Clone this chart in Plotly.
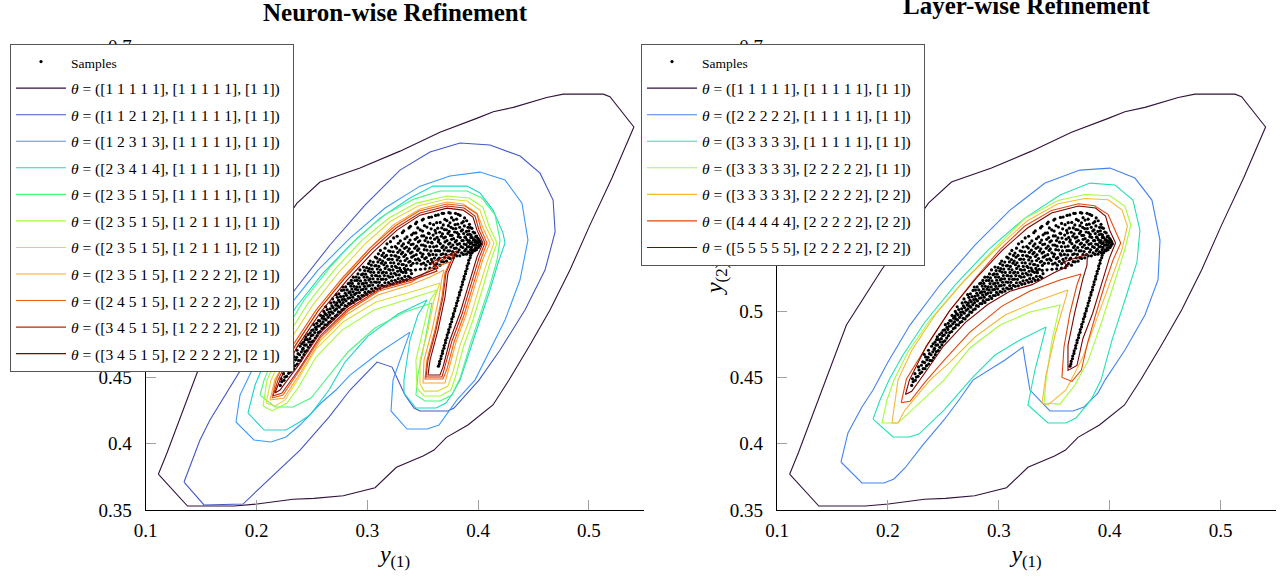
import plotly.graph_objects as go

FONT = "Liberation Serif"

# ---------------- samples (shared by both panels) ----------------
SAMPLES = [
    (0.2215,0.4440),(0.2228,0.4468),(0.2222,0.4490),
    (0.2272,0.4508),(0.2290,0.4531),(0.2281,0.4556),(0.2276,0.4579),
    (0.2335,0.4566),(0.2348,0.4589),(0.2331,0.4612),(0.2352,0.4633),(0.2340,0.4655),(0.2327,0.4674),
    (0.2398,0.4627),(0.2412,0.4650),(0.2389,0.4671),(0.2405,0.4693),(0.2417,0.4712),(0.2394,0.4735),(0.2408,0.4754),
    (0.2455,0.4702),(0.2468,0.4727),(0.2449,0.4745),(0.2472,0.4768),(0.2458,0.4786),(0.2446,0.4806),(0.2466,0.4824),
    (0.2514,0.4776),(0.2530,0.4797),(0.2509,0.4820),(0.2526,0.4839),(0.2512,0.4858),(0.2533,0.4877),(0.2518,0.4898),
    (0.2575,0.4846),(0.2590,0.4868),(0.2568,0.4889),(0.2586,0.4905),(0.2571,0.4926),(0.2593,0.4947),(0.2579,0.4968),
    (0.2636,0.4896),(0.2651,0.4915),(0.2628,0.4934),(0.2647,0.4953),(0.2632,0.4972),(0.2655,0.4991),(0.2639,0.5012),(0.2625,0.5033),
    (0.2696,0.4941),(0.2712,0.4962),(0.2689,0.4985),(0.2706,0.5006),(0.2691,0.5027),(0.2715,0.5046),(0.2700,0.5068),(0.2686,0.5092),
    (0.2755,0.4991),(0.2770,0.5010),(0.2748,0.5030),(0.2766,0.5049),(0.2752,0.5070),(0.2774,0.5088),(0.2759,0.5109),(0.2744,0.5131),(0.2768,0.5156),
    (0.2816,0.5036),(0.2831,0.5057),(0.2808,0.5078),(0.2827,0.5098),(0.2812,0.5119),(0.2834,0.5139),(0.2819,0.5160),(0.2805,0.5183),(0.2828,0.5207),
    (0.2875,0.5066),(0.2891,0.5086),(0.2869,0.5105),(0.2886,0.5126),(0.2872,0.5146),(0.2894,0.5166),(0.2879,0.5187),(0.2865,0.5209),(0.2888,0.5231),(0.2874,0.5256),
    (0.2936,0.5096),(0.2951,0.5118),(0.2929,0.5140),(0.2946,0.5161),(0.2932,0.5183),(0.2954,0.5205),(0.2939,0.5228),(0.2925,0.5251),(0.2948,0.5275),(0.2934,0.5311),
    (0.2995,0.5126),(0.3011,0.5147),(0.2989,0.5168),(0.3006,0.5190),(0.2992,0.5212),(0.3014,0.5234),(0.2999,0.5256),(0.2985,0.5279),(0.3008,0.5303),(0.2994,0.5328),(0.3012,0.5359),
    (0.3056,0.5151),(0.3071,0.5174),(0.3049,0.5197),(0.3066,0.5220),(0.3052,0.5244),(0.3074,0.5268),(0.3059,0.5292),(0.3045,0.5317),(0.3068,0.5342),(0.3054,0.5370),(0.3072,0.5408),
    (0.3115,0.5171),(0.3131,0.5194),(0.3109,0.5217),(0.3126,0.5240),(0.3112,0.5264),(0.3134,0.5288),(0.3119,0.5312),(0.3105,0.5337),(0.3128,0.5362),(0.3114,0.5389),(0.3132,0.5420),(0.3118,0.5458),
    (0.3176,0.5191),(0.3191,0.5216),(0.3169,0.5240),(0.3186,0.5265),(0.3172,0.5290),(0.3194,0.5314),(0.3179,0.5339),(0.3165,0.5365),(0.3188,0.5391),(0.3174,0.5420),(0.3192,0.5455),(0.3178,0.5508),
    (0.3235,0.5207),(0.3251,0.5233),(0.3229,0.5259),(0.3246,0.5285),(0.3232,0.5311),(0.3254,0.5337),(0.3239,0.5364),(0.3225,0.5391),(0.3248,0.5418),(0.3234,0.5448),(0.3252,0.5487),(0.3238,0.5552),
    (0.3296,0.5222),(0.3311,0.5247),(0.3289,0.5273),(0.3306,0.5299),(0.3292,0.5325),(0.3314,0.5351),(0.3299,0.5378),(0.3285,0.5405),(0.3308,0.5432),(0.3294,0.5460),(0.3312,0.5492),(0.3298,0.5530),(0.3316,0.5592),
    (0.3355,0.5237),(0.3371,0.5263),(0.3349,0.5290),(0.3366,0.5316),(0.3352,0.5343),(0.3374,0.5370),(0.3359,0.5397),(0.3345,0.5425),(0.3368,0.5453),(0.3354,0.5483),(0.3372,0.5517),(0.3358,0.5560),(0.3376,0.5628),
    (0.3412,0.5361),(0.3434,0.5389),(0.3419,0.5417),(0.3405,0.5446),(0.3428,0.5475),(0.3414,0.5506),(0.3432,0.5542),(0.3418,0.5588),(0.3436,0.5660),
    (0.3486,0.5355),(0.3472,0.5383),(0.3494,0.5411),(0.3479,0.5440),(0.3465,0.5469),(0.3488,0.5499),(0.3474,0.5531),(0.3492,0.5567),(0.3478,0.5613),(0.3496,0.5687),
    (0.3529,0.5347),(0.3546,0.5375),(0.3532,0.5403),(0.3554,0.5432),(0.3539,0.5461),(0.3525,0.5490),(0.3548,0.5520),(0.3534,0.5552),(0.3552,0.5588),(0.3538,0.5634),(0.3556,0.5707),
    (0.3611,0.5344),(0.3589,0.5372),(0.3606,0.5400),(0.3592,0.5428),(0.3614,0.5456),(0.3599,0.5485),(0.3585,0.5514),(0.3608,0.5543),(0.3594,0.5574),(0.3612,0.5609),(0.3598,0.5652),(0.3616,0.5722),
    (0.3656,0.5347),(0.3671,0.5373),(0.3649,0.5400),(0.3666,0.5427),(0.3652,0.5454),(0.3674,0.5481),(0.3659,0.5509),(0.3645,0.5537),(0.3668,0.5565),(0.3654,0.5595),(0.3672,0.5628),(0.3658,0.5669),(0.3676,0.5738),
    (0.3715,0.5377),(0.3731,0.5402),(0.3709,0.5428),(0.3726,0.5454),(0.3712,0.5480),(0.3734,0.5506),(0.3719,0.5532),(0.3705,0.5559),(0.3728,0.5586),(0.3714,0.5614),(0.3732,0.5645),(0.3718,0.5683),(0.3736,0.5743),
    (0.3776,0.5402),(0.3791,0.5426),(0.3769,0.5450),(0.3786,0.5474),(0.3772,0.5498),(0.3794,0.5522),(0.3779,0.5547),(0.3765,0.5572),(0.3788,0.5597),(0.3774,0.5623),(0.3792,0.5652),(0.3778,0.5687),(0.3796,0.5738),
    (0.3835,0.5417),(0.3851,0.5440),(0.3829,0.5463),(0.3846,0.5486),(0.3832,0.5509),(0.3854,0.5532),(0.3839,0.5556),(0.3825,0.5580),(0.3848,0.5605),(0.3834,0.5632),(0.3852,0.5665),(0.3838,0.5722),
    (0.3895,0.5430),(0.3908,0.5448),(0.3889,0.5466),(0.3904,0.5484),(0.3892,0.5502),(0.3911,0.5520),(0.3898,0.5539),(0.3886,0.5558),(0.3906,0.5578),(0.3894,0.5601),(0.3909,0.5632),(0.3897,0.5682),
    (0.3945,0.5445),(0.3957,0.5463),(0.3940,0.5481),(0.3953,0.5499),(0.3942,0.5517),(0.3959,0.5535),(0.3947,0.5554),(0.3936,0.5574),(0.3955,0.5597),(0.3944,0.5625),
    (0.3985,0.5463),(0.3996,0.5480),(0.3982,0.5497),(0.3993,0.5514),(0.3984,0.5531),(0.3998,0.5549),(0.3987,0.5566),
    (0.4012,0.5493),(0.4025,0.5508),(0.4018,0.5524),
    # second, interleaved set of points in the main band
    (0.2248,0.4478),(0.2256,0.4503),(0.2244,0.4528),
    (0.2306,0.4541),(0.2318,0.4566),(0.2302,0.4592),(0.2314,0.4617),
    (0.2368,0.4601),(0.2379,0.4628),(0.2362,0.4652),(0.2375,0.4679),(0.2366,0.4705),
    (0.2428,0.4672),(0.2437,0.4695),(0.2421,0.4720),(0.2434,0.4743),(0.2425,0.4766),(0.2439,0.4785),
    (0.2487,0.4745),(0.2497,0.4768),(0.2482,0.4792),(0.2494,0.4815),(0.2485,0.4837),(0.2499,0.4856),
    (0.2546,0.4815),(0.2557,0.4838),(0.2541,0.4862),(0.2553,0.4886),(0.2544,0.4908),(0.2559,0.4929),
    (0.2606,0.4875),(0.2617,0.4897),(0.2601,0.4919),(0.2613,0.4941),(0.2604,0.4962),(0.2619,0.4982),(0.2608,0.4998),
    (0.2668,0.4922),(0.2679,0.4946),(0.2662,0.4970),(0.2674,0.4995),(0.2665,0.5018),(0.2681,0.5040),(0.2670,0.5062),
    (0.2728,0.4972),(0.2739,0.4994),(0.2722,0.5017),(0.2734,0.5040),(0.2725,0.5062),(0.2741,0.5083),(0.2730,0.5104),(0.2719,0.5124),
    (0.2788,0.5017),(0.2799,0.5041),(0.2782,0.5065),(0.2794,0.5089),(0.2785,0.5112),(0.2801,0.5135),(0.2790,0.5159),(0.2779,0.5182),
    (0.2848,0.5057),(0.2859,0.5079),(0.2842,0.5101),(0.2854,0.5123),(0.2845,0.5145),(0.2861,0.5167),(0.2850,0.5189),(0.2839,0.5211),(0.2856,0.5232),
    (0.2908,0.5088),(0.2919,0.5112),(0.2902,0.5136),(0.2914,0.5160),(0.2905,0.5184),(0.2921,0.5208),(0.2910,0.5232),(0.2899,0.5257),(0.2916,0.5281),
    (0.2968,0.5118),(0.2979,0.5141),(0.2962,0.5164),(0.2974,0.5187),(0.2965,0.5210),(0.2981,0.5233),(0.2970,0.5257),(0.2959,0.5281),(0.2976,0.5306),(0.2966,0.5333),
    (0.3028,0.5143),(0.3039,0.5168),(0.3022,0.5193),(0.3034,0.5218),(0.3025,0.5243),(0.3041,0.5268),(0.3030,0.5294),(0.3019,0.5320),(0.3036,0.5347),(0.3026,0.5378),
    (0.3088,0.5167),(0.3099,0.5192),(0.3082,0.5217),(0.3094,0.5242),(0.3085,0.5267),(0.3101,0.5292),(0.3090,0.5318),(0.3079,0.5344),(0.3096,0.5371),(0.3086,0.5400),(0.3100,0.5432),
    (0.3148,0.5187),(0.3159,0.5214),(0.3142,0.5241),(0.3154,0.5268),(0.3145,0.5295),(0.3161,0.5322),(0.3150,0.5350),(0.3139,0.5378),(0.3156,0.5407),(0.3146,0.5438),(0.3160,0.5475),
    (0.3208,0.5202),(0.3219,0.5229),(0.3202,0.5256),(0.3214,0.5283),(0.3205,0.5310),(0.3221,0.5337),(0.3210,0.5365),(0.3199,0.5393),(0.3216,0.5421),(0.3206,0.5451),(0.3220,0.5484),(0.3209,0.5524),
    (0.3268,0.5217),(0.3279,0.5245),(0.3262,0.5273),(0.3274,0.5301),(0.3265,0.5329),(0.3281,0.5357),(0.3270,0.5386),(0.3259,0.5415),(0.3276,0.5444),(0.3266,0.5476),(0.3280,0.5512),(0.3269,0.5565),
    (0.3328,0.5232),(0.3339,0.5262),(0.3322,0.5292),(0.3334,0.5322),(0.3325,0.5352),(0.3341,0.5382),(0.3330,0.5412),(0.3319,0.5443),(0.3336,0.5474),(0.3326,0.5507),(0.3340,0.5546),(0.3329,0.5605),
    (0.3388,0.5252),(0.3399,0.5283),(0.3394,0.5345),(0.3385,0.5376),(0.3401,0.5407),(0.3390,0.5438),(0.3379,0.5470),(0.3396,0.5502),(0.3386,0.5536),(0.3400,0.5576),(0.3389,0.5640),
    (0.3448,0.5362),(0.3459,0.5394),(0.3442,0.5426),(0.3454,0.5458),(0.3445,0.5490),(0.3461,0.5522),(0.3450,0.5555),(0.3439,0.5590),(0.3456,0.5628),(0.3446,0.5672),
    (0.3508,0.5362),(0.3519,0.5396),(0.3502,0.5430),(0.3514,0.5464),(0.3505,0.5498),(0.3521,0.5532),(0.3510,0.5567),(0.3499,0.5604),(0.3516,0.5645),(0.3506,0.5695),
    (0.3568,0.5358),(0.3579,0.5390),(0.3562,0.5422),(0.3574,0.5454),(0.3565,0.5486),(0.3581,0.5518),(0.3570,0.5551),(0.3559,0.5585),(0.3576,0.5621),(0.3566,0.5662),(0.3580,0.5710),
    (0.3628,0.5358),(0.3639,0.5391),(0.3622,0.5424),(0.3634,0.5457),(0.3625,0.5490),(0.3641,0.5523),(0.3630,0.5556),(0.3619,0.5590),(0.3636,0.5626),(0.3626,0.5667),(0.3640,0.5726),
    (0.3688,0.5372),(0.3699,0.5402),(0.3682,0.5432),(0.3694,0.5462),(0.3685,0.5492),(0.3701,0.5522),(0.3690,0.5552),(0.3679,0.5583),(0.3696,0.5615),(0.3686,0.5650),(0.3700,0.5692),(0.3689,0.5738),
    (0.3748,0.5397),(0.3759,0.5426),(0.3742,0.5455),(0.3754,0.5484),(0.3745,0.5513),(0.3761,0.5542),(0.3750,0.5571),(0.3739,0.5601),(0.3756,0.5632),(0.3746,0.5666),(0.3760,0.5705),(0.3749,0.5740),
    (0.3808,0.5417),(0.3819,0.5446),(0.3802,0.5475),(0.3814,0.5504),(0.3805,0.5533),(0.3821,0.5562),(0.3810,0.5592),(0.3799,0.5623),(0.3816,0.5656),(0.3806,0.5694),(0.3820,0.5730),
    (0.3868,0.5428),(0.3879,0.5454),(0.3862,0.5480),(0.3874,0.5506),(0.3865,0.5532),(0.3881,0.5558),(0.3870,0.5585),(0.3859,0.5613),(0.3876,0.5643),(0.3866,0.5675),(0.3878,0.5703),
    (0.3923,0.5441),(0.3932,0.5464),(0.3918,0.5487),(0.3929,0.5510),(0.3921,0.5533),(0.3934,0.5556),(0.3925,0.5580),(0.3916,0.5605),(0.3930,0.5630),(0.3922,0.5655),
    (0.3968,0.5456),(0.3976,0.5477),(0.3963,0.5498),(0.3973,0.5519),(0.3966,0.5540),(0.3978,0.5562),(0.3969,0.5590),
    (0.4003,0.5480),(0.4010,0.5499),(0.3998,0.5518),(0.4008,0.5537),
    # thin right arm
    (0.3945,0.5440),(0.3932,0.5421),(0.3928,0.5402),(0.3915,0.5383),(0.3913,0.5361),(0.3901,0.5342),(0.3900,0.5320),
    (0.3888,0.5301),(0.3886,0.5282),(0.3874,0.5262),(0.3872,0.5241),(0.3860,0.5221),(0.3858,0.5201),(0.3847,0.5182),
    (0.3845,0.5160),(0.3833,0.5141),(0.3831,0.5121),(0.3819,0.5101),(0.3817,0.5080),(0.3806,0.5061),(0.3803,0.5040),
    (0.3791,0.5020),(0.3789,0.5001),(0.3777,0.4981),(0.3775,0.4960),(0.3763,0.4941),(0.3761,0.4920),(0.3749,0.4901),
    (0.3747,0.4881),(0.3735,0.4861),(0.3733,0.4840),(0.3721,0.4821),(0.3719,0.4800),(0.3707,0.4781),(0.3705,0.4761),
    (0.3694,0.4741),(0.3692,0.4720),(0.3680,0.4701),(0.3678,0.4681),(0.3667,0.4661),(0.3664,0.4641),(0.3653,0.4621),
    (0.3650,0.4601),(0.3642,0.4585),
    # sparse inner line
    (0.3300,0.5310),(0.3345,0.5305),(0.3392,0.5308),(0.3435,0.5312),(0.3480,0.5316),(0.3522,0.5319),(0.3565,0.5324),(0.3600,0.5328),
]
sample_x = [p[0] for p in SAMPLES]
sample_y = [p[1] for p in SAMPLES]

# ---------------- Neuron-wise contours ----------------
NW1_X = [0.1114,0.1377,0.1797,0.2005,0.2329,0.2519,0.2783,0.3070,0.3263,0.3503,0.3602,0.3714,0.3908,0.4134,0.4279,0.4468,0.4649,0.4829,0.5009,0.5208,0.5406,0.5190,0.5130,0.4769,0.4619,0.4318,0.4137,0.3987,0.3656,0.3295,0.2934,0.2573,0.2366,0.1942,0.1626,0.1464,0.1310,0.1192]
NW1_Y = [0.3770,0.3530,0.3530,0.3545,0.3581,0.3588,0.3608,0.3668,0.3822,0.3907,0.3952,0.4048,0.4141,0.4292,0.4481,0.4744,0.5008,0.5310,0.5649,0.6004,0.6389,0.6617,0.6637,0.6637,0.6612,0.6537,0.6504,0.6454,0.6350,0.6207,0.6079,0.5974,0.5815,0.5310,0.4895,0.4533,0.4179,0.3930]
NW2_X = [0.1346,0.1526,0.1878,0.2167,0.2393,0.2654,0.2844,0.3088,0.3223,0.3340,0.3422,0.3476,0.3728,0.3783,0.4008,0.4198,0.4423,0.4604,0.4695,0.4677,0.4559,0.4379,0.4107,0.3837,0.3566,0.3295,0.2979,0.2663,0.2366,0.2077,0.1824,0.1580,0.1490]
NW2_Y = [0.3711,0.3538,0.3545,0.3771,0.3952,0.4201,0.4405,0.4616,0.4578,0.4367,0.4269,0.4247,0.4247,0.4269,0.4480,0.4707,0.5008,0.5310,0.5597,0.5838,0.6041,0.6170,0.6253,0.6268,0.6200,0.6064,0.5800,0.5499,0.5182,0.4857,0.4511,0.4179,0.4028]
NW3_X = [0.3385,0.3114,0.2844,0.2717,0.2582,0.2393,0.2266,0.2131,0.1977,0.1815,0.1851,0.1959,0.2104,0.2302,0.2555,0.2844,0.3160,0.3476,0.3746,0.4017,0.4243,0.4396,0.4450,0.4378,0.4243,0.4107,0.3972,0.3809,0.3647,0.3539,0.3358,0.3214,0.3232,0.3295]
NW3_Y = [0.4842,0.4692,0.4518,0.4405,0.4307,0.4141,0.4051,0.4013,0.4028,0.4164,0.4367,0.4555,0.4782,0.5046,0.5310,0.5551,0.5778,0.5943,0.6019,0.6049,0.5989,0.5815,0.5536,0.5235,0.4933,0.4707,0.4480,0.4330,0.4141,0.4111,0.4111,0.4247,0.4480,0.4631]
NW4_X = [0.1923,0.1987,0.2140,0.2357,0.2600,0.2844,0.3114,0.3385,0.3593,0.3900,0.4017,0.4135,0.4225,0.4243,0.4180,0.4107,0.4017,0.3927,0.3837,0.3773,0.3710,0.3620,0.3439,0.3331,0.3331,0.3385,0.3457,0.3539,0.3277,0.3006,0.2799,0.2654,0.2483,0.2375,0.2266,0.2068]
NW4_Y = [0.4232,0.4443,0.4744,0.5031,0.5287,0.5498,0.5702,0.5853,0.5943,0.5943,0.5891,0.5762,0.5589,0.5514,0.5363,0.5159,0.4933,0.4707,0.4480,0.4382,0.4307,0.4269,0.4269,0.4382,0.4480,0.4782,0.4971,0.5084,0.4978,0.4812,0.4616,0.4405,0.4216,0.4156,0.4103,0.4103]
NW5_X = [0.2032,0.2068,0.2221,0.2429,0.2672,0.2916,0.3168,0.3421,0.3656,0.3900,0.4035,0.4153,0.4198,0.4171,0.4107,0.4017,0.3927,0.3837,0.3764,0.3656,0.3521,0.3439,0.3457,0.3521,0.3584,0.3340,0.3069,0.2825,0.2618,0.2492,0.2329,0.2167]
NW5_Y = [0.4367,0.4480,0.4797,0.5084,0.5340,0.5559,0.5732,0.5845,0.5906,0.5906,0.5853,0.5725,0.5536,0.5385,0.5197,0.4971,0.4744,0.4495,0.4367,0.4322,0.4322,0.4367,0.4518,0.4782,0.5061,0.4993,0.4873,0.4692,0.4480,0.4345,0.4277,0.4277]
NW6_X = [0.2059,0.2095,0.2257,0.2465,0.2708,0.2952,0.3196,0.3439,0.3719,0.3918,0.4044,0.4098,0.4171,0.4107,0.4044,0.3954,0.3864,0.3801,0.3755,0.3656,0.3512,0.3448,0.3439,0.3503,0.3566,0.3629,0.3340,0.3060,0.2772,0.2537,0.2375,0.2275,0.2140]
NW6_Y = [0.4284,0.4480,0.4782,0.5061,0.5317,0.5536,0.5702,0.5815,0.5868,0.5853,0.5785,0.5642,0.5514,0.5363,0.5182,0.4933,0.4722,0.4518,0.4405,0.4360,0.4360,0.4420,0.4631,0.4857,0.5084,0.5159,0.5084,0.5008,0.4857,0.4654,0.4420,0.4307,0.4247]
NW7_X = [0.2086,0.2131,0.2293,0.2501,0.2745,0.2989,0.3214,0.3458,0.3719,0.3900,0.4017,0.4071,0.4143,0.4080,0.4017,0.3927,0.3837,0.3773,0.3728,0.3638,0.3512,0.3476,0.3476,0.3548,0.3602,0.3656,0.3367,0.3078,0.2781,0.2537,0.2366,0.2257,0.2167]
NW7_Y = [0.4307,0.4480,0.4767,0.5038,0.5295,0.5514,0.5680,0.5793,0.5846,0.5831,0.5762,0.5634,0.5514,0.5370,0.5197,0.4948,0.4744,0.4541,0.4435,0.4397,0.4397,0.4450,0.4631,0.4857,0.5084,0.5212,0.5137,0.5069,0.4918,0.4714,0.4473,0.4330,0.4284]
NW8_X = [0.2122,0.2167,0.2357,0.2555,0.2790,0.3015,0.3232,0.3476,0.3719,0.3864,0.3990,0.4044,0.4107,0.4044,0.3981,0.3891,0.3801,0.3737,0.3701,0.3503,0.3512,0.3584,0.3647,0.3674,0.3692,0.3566,0.3385,0.3096,0.2807,0.2573,0.2384,0.2248]
NW8_Y = [0.4330,0.4488,0.4744,0.5001,0.5250,0.5468,0.5649,0.5770,0.5823,0.5808,0.5740,0.5627,0.5514,0.5393,0.5219,0.4971,0.4767,0.4563,0.4458,0.4458,0.4631,0.4857,0.5106,0.5250,0.5310,0.5257,0.5197,0.5121,0.4971,0.4775,0.4518,0.4345]
NW9_X = [0.2140,0.2176,0.2329,0.2537,0.2781,0.3024,0.3250,0.3467,0.3719,0.3882,0.3990,0.4026,0.4080,0.4026,0.3963,0.3873,0.3783,0.3719,0.3683,0.3521,0.3539,0.3611,0.3674,0.3701,0.3746,0.3584,0.3403,0.3105,0.2825,0.2582,0.2384,0.2239]
NW9_Y = [0.4345,0.4480,0.4744,0.5008,0.5257,0.5476,0.5642,0.5755,0.5808,0.5793,0.5732,0.5619,0.5514,0.5393,0.5219,0.4971,0.4767,0.4563,0.4488,0.4488,0.4631,0.4857,0.5106,0.5287,0.5370,0.5325,0.5219,0.5152,0.5001,0.4805,0.4548,0.4367]
NW10_X = [0.2149,0.2194,0.2347,0.2555,0.2799,0.3033,0.3259,0.3476,0.3719,0.3873,0.3972,0.4008,0.4062,0.4008,0.3945,0.3855,0.3764,0.3701,0.3674,0.3530,0.3548,0.3620,0.3683,0.3710,0.3783,0.3593,0.3629,0.3403,0.3114,0.2825,0.2582,0.2384,0.2230]
NW10_Y = [0.4360,0.4480,0.4737,0.5001,0.5250,0.5461,0.5627,0.5740,0.5793,0.5778,0.5717,0.5612,0.5514,0.5400,0.5227,0.4978,0.4775,0.4571,0.4503,0.4503,0.4631,0.4857,0.5106,0.5287,0.5431,0.5355,0.5302,0.5234,0.5167,0.5016,0.4820,0.4563,0.4382]
NW11_X = [0.2167,0.2212,0.2366,0.2573,0.2817,0.3052,0.3268,0.3476,0.3719,0.3864,0.3954,0.3990,0.4044,0.3990,0.3927,0.3837,0.3746,0.3683,0.3656,0.3548,0.3566,0.3638,0.3701,0.3728,0.3810,0.3584,0.3638,0.3412,0.3114,0.2817,0.2573,0.2366,0.2212]
NW11_Y = [0.4382,0.4480,0.4729,0.4986,0.5234,0.5445,0.5611,0.5724,0.5777,0.5762,0.5709,0.5611,0.5513,0.5408,0.5234,0.4986,0.4782,0.4578,0.4518,0.4518,0.4631,0.4857,0.5106,0.5287,0.5453,0.5370,0.5325,0.5249,0.5181,0.5031,0.4835,0.4578,0.4405]

NW_LABELS = [
    "([1 1 1 1 1], [1 1 1 1 1], [1 1])",
    "([1 1 2 1 2], [1 1 1 1 1], [1 1])",
    "([1 2 3 1 3], [1 1 1 1 1], [1 1])",
    "([2 3 4 1 4], [1 1 1 1 1], [1 1])",
    "([2 3 5 1 5], [1 1 1 1 1], [1 1])",
    "([2 3 5 1 5], [1 2 1 1 1], [1 1])",
    "([2 3 5 1 5], [1 2 1 1 1], [2 1])",
    "([2 3 5 1 5], [1 2 2 2 2], [2 1])",
    "([2 4 5 1 5], [1 2 2 2 2], [2 1])",
    "([3 4 5 1 5], [1 2 2 2 2], [2 1])",
    "([3 4 5 1 5], [2 2 2 2 2], [2 1])",
]

# ---------------- Layer-wise contours ----------------
LW1_X, LW1_Y = NW1_X, NW1_Y  # same model ([1 1 1 1 1], [1 1 1 1 1], [1 1])
LW2_X = [0.1577,0.1640,0.1766,0.1866,0.2001,0.2199,0.2470,0.2785,0.3101,0.3417,0.3732,0.4003,0.4228,0.4381,0.4454,0.4436,0.4318,0.4138,0.3958,0.3894,0.3768,0.3669,0.3462,0.3281,0.3236,0.3218,0.3056,0.2876,0.2767,0.2641,0.2506,0.2316,0.2154,0.2055,0.1965,0.1766]
LW2_Y = [0.3862,0.4081,0.4277,0.4405,0.4616,0.4895,0.5197,0.5498,0.5762,0.5966,0.6064,0.6079,0.6004,0.5838,0.5536,0.5235,0.4971,0.4707,0.4480,0.4382,0.4277,0.4247,0.4247,0.4405,0.4631,0.4729,0.4631,0.4541,0.4480,0.4330,0.4179,0.3991,0.3817,0.3734,0.3704,0.3704]
LW3_X = [0.1866,0.1929,0.2010,0.2136,0.2335,0.2605,0.2921,0.3236,0.3552,0.3822,0.4048,0.4210,0.4273,0.4246,0.4138,0.4021,0.3922,0.3831,0.3696,0.3606,0.3444,0.3263,0.3326,0.3426,0.3191,0.2966,0.2758,0.2641,0.2506,0.2280,0.2190,0.2046]
LW3_Y = [0.4186,0.4330,0.4480,0.4669,0.4918,0.5197,0.5476,0.5702,0.5876,0.5966,0.5951,0.5838,0.5612,0.5370,0.5084,0.4782,0.4480,0.4330,0.4194,0.4156,0.4156,0.4292,0.4556,0.4880,0.4782,0.4669,0.4495,0.4382,0.4254,0.4073,0.4051,0.4051]
LW4_X = [0.1947,0.1992,0.2055,0.2181,0.2380,0.2650,0.2948,0.3236,0.3534,0.3777,0.4003,0.4138,0.4190,0.4135,0.4035,0.3918,0.3808,0.3687,0.3552,0.3408,0.3426,0.3480,0.3552,0.3281,0.3011,0.2740,0.2506,0.2380,0.2253,0.2091]
LW4_Y = [0.4156,0.4330,0.4480,0.4692,0.4933,0.5197,0.5460,0.5700,0.5835,0.5880,0.5870,0.5790,0.5649,0.5461,0.5197,0.4895,0.4631,0.4443,0.4299,0.4307,0.4480,0.4782,0.5046,0.4993,0.4895,0.4722,0.4480,0.4382,0.4277,0.4156]
LW5_X = [0.2037,0.2064,0.2091,0.2217,0.2425,0.2695,0.2966,0.3254,0.3534,0.3777,0.3985,0.4111,0.4160,0.4110,0.3995,0.3875,0.3755,0.3606,0.3444,0.3390,0.3426,0.3507,0.3624,0.3371,0.3056,0.2785,0.2560,0.2380,0.2280,0.2154,0.2091]
LW5_Y = [0.4156,0.4330,0.4480,0.4707,0.4971,0.5235,0.5461,0.5680,0.5810,0.5850,0.5840,0.5765,0.5642,0.5461,0.5197,0.4918,0.4646,0.4405,0.4292,0.4307,0.4518,0.4820,0.5159,0.5084,0.4971,0.4805,0.4616,0.4480,0.4382,0.4254,0.4156]
LW6_X = [0.2120,0.2167,0.2357,0.2555,0.2790,0.3015,0.3232,0.3476,0.3719,0.3864,0.3985,0.4040,0.4100,0.4030,0.3960,0.3870,0.3800,0.3745,0.3660,0.3570,0.3588,0.3642,0.3705,0.3741,0.3552,0.3281,0.3029,0.2740,0.2524,0.2335,0.2200]
LW6_Y = [0.4310,0.4488,0.4744,0.5001,0.5250,0.5468,0.5640,0.5760,0.5810,0.5795,0.5730,0.5622,0.5514,0.5385,0.5212,0.4963,0.4759,0.4556,0.4470,0.4500,0.4729,0.4986,0.5197,0.5280,0.5235,0.5152,0.5038,0.4842,0.4646,0.4465,0.4320]
LW7_X = [0.2158,0.2194,0.2347,0.2555,0.2799,0.3033,0.3259,0.3476,0.3719,0.3873,0.3963,0.3999,0.4053,0.3999,0.3936,0.3846,0.3759,0.3705,0.3624,0.3624,0.3687,0.3759,0.3795,0.3800,0.3584,0.3624,0.3489,0.3300,0.3100,0.2900,0.2700,0.2500,0.2330,0.2215]
LW7_Y = [0.4371,0.4480,0.4737,0.5001,0.5250,0.5461,0.5627,0.5740,0.5793,0.5778,0.5717,0.5612,0.5514,0.5404,0.5230,0.4982,0.4794,0.4590,0.4553,0.4741,0.4997,0.5246,0.5345,0.5430,0.5370,0.5340,0.5285,0.5200,0.5150,0.5050,0.4915,0.4735,0.4530,0.4395]

LW_LABELS = [
    "([1 1 1 1 1], [1 1 1 1 1], [1 1])",
    "([2 2 2 2 2], [1 1 1 1 1], [1 1])",
    "([3 3 3 3 3], [1 1 1 1 1], [1 1])",
    "([3 3 3 3 3], [2 2 2 2 2], [1 1])",
    "([3 3 3 3 3], [2 2 2 2 2], [2 2])",
    "([4 4 4 4 4], [2 2 2 2 2], [2 2])",
    "([5 5 5 5 5], [2 2 2 2 2], [2 2])",
]

X_TICKS = [0.1, 0.2, 0.3, 0.4, 0.5]
Y_TICKS = [0.35, 0.4, 0.45, 0.5, 0.55, 0.6, 0.65, 0.7]

NW_COLORS = ['#30123b', '#4358c5', '#3c99f9', '#1dd5cb', '#49f683', '#a4fc3b',
             '#dfda36', '#fca430', '#ee5a12', '#c12503', '#7a0402']
LW_COLORS = ['#30123b', '#4284f2', '#21e2b5', '#a4fc3b', '#f7b836', '#e2460b', '#7a0402']

NW_SETS = [(NW1_X, NW1_Y), (NW2_X, NW2_Y), (NW3_X, NW3_Y), (NW4_X, NW4_Y), (NW5_X, NW5_Y),
           (NW6_X, NW6_Y), (NW7_X, NW7_Y), (NW8_X, NW8_Y), (NW9_X, NW9_Y), (NW10_X, NW10_Y),
           (NW11_X, NW11_Y)]
LW_SETS = [(LW1_X, LW1_Y), (LW2_X, LW2_Y), (LW3_X, LW3_Y), (LW4_X, LW4_Y), (LW5_X, LW5_Y),
           (LW6_X, LW6_Y), (LW7_X, LW7_Y)]

PAD = "&nbsp;&nbsp;"  # right padding inside the legend box

fig = go.Figure()

def add_panel(sets, labels, colors, xa, ya, leg, tag):
    fig.add_trace(go.Scatter(
        x=sample_x, y=sample_y, mode="markers", xaxis=xa, yaxis=ya,
        marker=dict(color="black", size=3.2, line=dict(width=0)),
        name='<span style="font-size:13.5px">Samples</span>',
        legend=leg, legendgroup=tag + "s", hoverinfo="skip"))
    for i, ((xs, ys), lab, col) in enumerate(zip(sets, labels, colors)):
        fig.add_trace(go.Scatter(
            x=list(xs) + [xs[0]], y=list(ys) + [ys[0]], mode="lines",
            xaxis=xa, yaxis=ya, line=dict(color=col, width=1.1),
            name="<i>θ</i> = " + lab + PAD, legend=leg, legendgroup=tag + str(i),
            hoverinfo="skip"))

add_panel(NW_SETS, NW_LABELS, NW_COLORS, "x", "y", "legend", "n")
add_panel(LW_SETS, LW_LABELS, LW_COLORS, "x2", "y2", "legend2", "l")

W, H = 1288, 577
xl0, xl1 = 145.7 / W, 644.3 / W
xr0, xr1 = 777.0 / W, 1276.0 / W
yb, yt = (H - 510.0) / H, (H - 46.0) / H

tickfont = dict(family=FONT, size=19, color="black")
def xax(dom, anchor):
    return dict(domain=[dom[0], dom[1]], anchor=anchor, range=[0.1, 0.55],
                tickvals=X_TICKS, ticktext=[f"{v:g}" for v in X_TICKS],
                ticks="inside", ticklen=10, tickwidth=1, tickcolor="#a0a0a0",
                showline=True, linecolor="black", linewidth=1.3,
                showgrid=False, zeroline=False, tickfont=tickfont,
                ticklabelstandoff=3, automargin=False,
                title=dict(text="<i>y</i><sub>(1)</sub>",
                           font=dict(family=FONT, size=24, color="black"), standoff=2))
def yax(anchor):
    return dict(domain=[yb, yt], anchor=anchor, range=[0.35, 0.7],
                tickvals=Y_TICKS, ticktext=[f"{v:g}" for v in Y_TICKS],
                ticks="inside", ticklen=10, tickwidth=1, tickcolor="#a0a0a0",
                showline=True, linecolor="black", linewidth=1.3,
                showgrid=False, zeroline=False, tickfont=tickfont,
                ticklabelstandoff=9, automargin=False,
                title=dict(text="<i>y</i><sub>(2)</sub>",
                           font=dict(family=FONT, size=24, color="black"), standoff=0))

legend_common = dict(yanchor="top", xanchor="left", bgcolor="white",
                     bordercolor="#555555", borderwidth=1,
                     font=dict(family=FONT, size=15.5, color="black"),
                     tracegroupgap=3.4, itemwidth=50, traceorder="grouped")

fig.update_layout(
    width=W, height=H, margin=dict(l=0, r=0, t=0, b=0, pad=0, autoexpand=False),
    paper_bgcolor="white", plot_bgcolor="white",
    xaxis=xax((xl0, xl1), "y"), yaxis=yax("x"),
    xaxis2=xax((xr0, xr1), "y2"), yaxis2=yax("x2"),
    legend=dict(x=10 / W, y=1 - 44 / H, **legend_common),
    legend2=dict(x=641 / W, y=1 - 44 / H, **legend_common),
    annotations=[
        dict(text="<b>Neuron-wise Refinement</b>", x=(xl0 + xl1) / 2, y=1 - 12 / H,
             xref="paper", yref="paper", showarrow=False, xanchor="center", yanchor="middle",
             font=dict(family=FONT, size=25, color="black")),
        dict(text="<b>Layer-wise Refinement</b>", x=(xr0 + xr1) / 2, y=1 - 5 / H,
             xref="paper", yref="paper", showarrow=False, xanchor="center", yanchor="middle",
             font=dict(family=FONT, size=25, color="black")),
    ],
    showlegend=True,
)

# keep the legend boxes on top of the axis titles (as in the reference)
POST = """
var gd = document.getElementById('{plot_id}');
function raiseLegends() {
  var il = gd.querySelector('.infolayer');
  if (!il) return;
  Array.prototype.slice.call(il.children).forEach(function (g) {
    var c = g.getAttribute('class') || '';
    if (c.indexOf('legend') === 0) il.appendChild(g);
  });
}
raiseLegends();
if (gd.on) gd.on('plotly_afterplot', raiseLegends);
"""

fig.write_html("out.html", post_script=POST)
